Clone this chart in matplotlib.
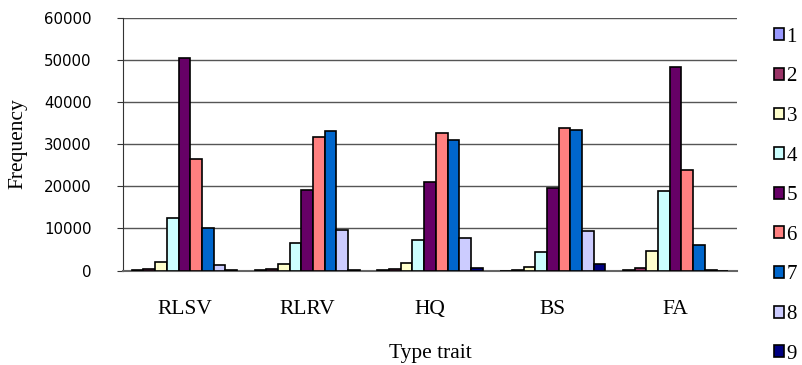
import numpy as np
import matplotlib
matplotlib.use("Agg")
import matplotlib.pyplot as plt

traits = ["RLSV", "RLRV", "HQ", "BS", "FA"]
series_names = ["1", "2", "3", "4", "5", "6", "7", "8", "9"]

s1 = [50, 80, 60, 40, 100]
s2 = [300, 500, 500, 250, 700]
s3 = [2000, 1700, 1900, 900, 4600]
s4 = [12600, 6600, 7200, 4400, 19000]
s5 = [50500, 19100, 21000, 19700, 48300]
s6 = [26500, 31800, 32700, 33900, 23800]
s7 = [10200, 33000, 30900, 33400, 6000]
s8 = [1300, 9700, 7800, 9300, 100]
s9 = [100, 200, 700, 1700, 0]
all_series = [s1, s2, s3, s4, s5, s6, s7, s8, s9]

colors = ["#9999FF", "#993366", "#FFFFCC", "#CCFFFF", "#660066",
          "#FF8080", "#0066CC", "#CCCCFF", "#000080"]

serif = ["Liberation Serif", "DejaVu Serif"]

fig = plt.figure(figsize=(8.03, 3.65), dpi=100)
ax = fig.add_axes([0.1532, 0.2584, 0.7646, 0.6936])

x = np.arange(len(traits))
w = 1 / 10.5
handles = []
for i, vals in enumerate(all_series):
    b = ax.bar(x + (i - 4) * w, vals, width=w, color=colors[i],
               edgecolor="black", linewidth=1.2, label=series_names[i], zorder=3)
    handles.append(b)

ax.set_xlim(-0.5, 4.5)
ax.set_ylim(0, 60000)
ax.set_yticks(range(0, 60001, 10000))
ax.yaxis.grid(True, color="#555555", linewidth=1, zorder=0)
for s in ["top", "right"]:
    ax.spines[s].set_visible(False)
ax.spines["left"].set_color("#333333")
ax.spines["bottom"].set_color("#666666")
ax.spines["bottom"].set_linewidth(1.5)

ax.tick_params(axis="y", direction="out", length=4.5, color="#333333",
               pad=18, labelsize=10.8)
ax.tick_params(axis="x", length=0, pad=21)
ax.set_xticks(x)
ax.set_xticklabels(traits, family=serif, fontsize=15.5)

ax.set_xlabel("Type trait", family=serif, fontsize=15.5, labelpad=18)
ax.set_ylabel("Frequency", family=serif, fontsize=15.5, labelpad=12)

fig.legend(handles=handles, loc="upper left", bbox_to_anchor=(0.953, 0.947),
           frameon=False, prop={"family": serif, "size": 15},
           handlelength=0.5, handleheight=0.5, handletextpad=0.12,
           labelspacing=0.99, borderaxespad=0)

fig.savefig("out.png", dpi=100)
